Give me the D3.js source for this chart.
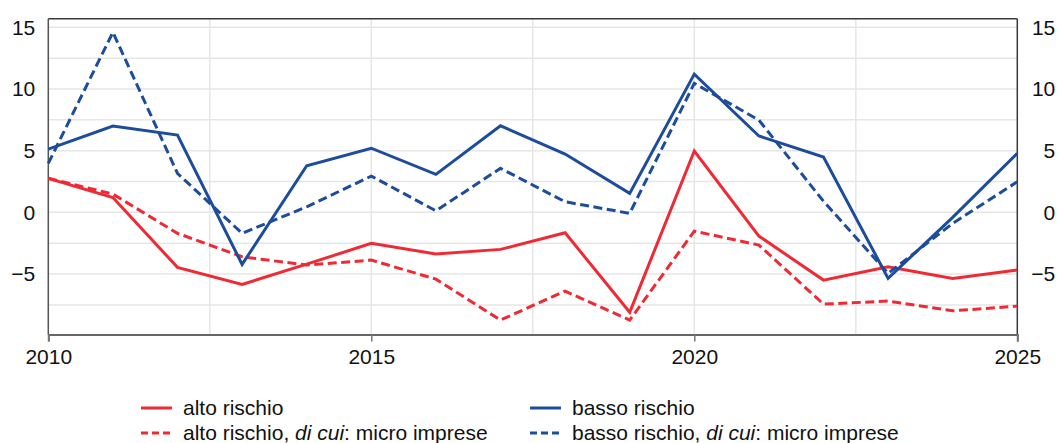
<!DOCTYPE html>
<html>
<head>
<meta charset="utf-8">
<script src="https://cdn.jsdelivr.net/npm/d3@7"></script>
<style>
  html, body { margin: 0; padding: 0; background: #fff; }
  svg { display: block; font-family: "Liberation Sans", Arial, sans-serif; }
</style>
</head>
<body>
<svg id="chart" width="1057" height="443"></svg>
<script>
const years = [2010, 2011, 2012, 2013, 2014, 2015, 2016, 2017, 2018, 2019, 2020, 2021, 2022, 2023, 2024, 2025];
const altoRischio = [2.76, 1.2, -4.46, -5.84, -4.2, -2.51, -3.38, -3.0, -1.65, -8.1, 4.97, -1.92, -5.49, -4.41, -5.35, -4.68];
const altoMicro = [2.76, 1.48, -1.7, -3.6, -4.27, -3.87, -5.41, -8.73, -6.38, -8.73, -1.52, -2.65, -7.44, -7.19, -7.98, -7.6];
const bassoRischio = [5.13, 7.0, 6.27, -4.22, 3.78, 5.2, 3.08, 7.02, 4.73, 1.54, 11.21, 6.19, 4.48, -5.35, -0.4, 4.78];
const bassoMicro = [3.97, 14.6, 3.16, -1.7, 0.45, 2.94, 0.13, 3.57, 0.86, -0.08, 10.46, 7.48, 0.9, -4.95, -0.89, 2.48];

const yTickLabels = [-5, 0, 5, 10, 15];
const yGrid = [-7.5, -5, -2.5, 0, 2.5, 5, 7.5, 10, 12.5, 15];
const xTickLabels = [2010, 2015, 2020, 2025];
const xGrid = [2012.5, 2015, 2017.5, 2020, 2022.5];

const seriesNames = ["alto rischio", "basso rischio", "alto rischio, di cui: micro imprese", "basso rischio, di cui: micro imprese"];

const RED = "#ee2a35", BLUE = "#1d4d9a";

const series = [
  { name: seriesNames[0], values: altoRischio, color: RED, dash: null },
  { name: seriesNames[2], values: altoMicro, color: RED, dash: "9,4.5" },
  { name: seriesNames[1], values: bassoRischio, color: BLUE, dash: null },
  { name: seriesNames[3], values: bassoMicro, color: BLUE, dash: "9,4.5" }
];

const svg = d3.select("#chart");
const L = 48.3, R = 1017.3, T = 18.7, B = 334.5;

const x = d3.scaleLinear().domain([2010, 2025]).range([L, R]);
const y = d3.scaleLinear().domain([-9.9, 15.7]).range([B, T]);

// grid
svg.append("g").selectAll("line.h").data(yGrid).join("line")
  .attr("x1", L).attr("x2", R)
  .attr("y1", d => y(d)).attr("y2", d => y(d))
  .attr("stroke", "#e6e6e6").attr("stroke-width", 1.5);
svg.append("g").selectAll("line.v").data(xGrid).join("line")
  .attr("x1", d => x(d)).attr("x2", d => x(d))
  .attr("y1", T).attr("y2", B)
  .attr("stroke", "#e6e6e6").attr("stroke-width", 1.5);

// frame
svg.append("line").attr("x1", L).attr("x2", R).attr("y1", T).attr("y2", T)
  .attr("stroke", "#3a3a3a").attr("stroke-width", 1.5);
svg.append("line").attr("x1", L).attr("x2", L).attr("y1", T).attr("y2", B)
  .attr("stroke", "#555").attr("stroke-width", 1.5);
svg.append("line").attr("x1", R).attr("x2", R).attr("y1", T).attr("y2", B)
  .attr("stroke", "#3a3a3a").attr("stroke-width", 1.5);

// x axis
const xAxis = d3.axisBottom(x).tickValues(xTickLabels).tickFormat(d3.format("d")).tickSize(7).tickPadding(8);
const gx = svg.append("g").attr("transform", `translate(0,${B})`).call(xAxis);
gx.select(".domain").attr("stroke", "#666").attr("stroke-width", 2);
gx.selectAll(".tick line").attr("stroke", "#777").attr("stroke-width", 1.5);
gx.selectAll(".tick text").attr("font-size", 21).attr("fill", "#111")
  .attr("font-family", "Liberation Sans, Arial, sans-serif");

// y axes (labels only)
const yAxisL = d3.axisLeft(y).tickValues(yTickLabels).tickSize(0).tickPadding(13);
const gyl = svg.append("g").attr("transform", `translate(${L},0)`).call(yAxisL);
gyl.select(".domain").remove();
gyl.selectAll(".tick text").attr("font-size", 21).attr("fill", "#111")
  .attr("font-family", "Liberation Sans, Arial, sans-serif");

const yAxisR = d3.axisRight(y).tickValues(yTickLabels).tickSize(0).tickPadding(38);
const gyr = svg.append("g").attr("transform", `translate(${R},0)`).call(yAxisR);
gyr.select(".domain").remove();
gyr.selectAll(".tick text").attr("font-size", 21).attr("fill", "#111")
  .attr("text-anchor", "end")
  .attr("font-family", "Liberation Sans, Arial, sans-serif");

// lines
const line = d3.line().x((d, i) => x(years[i])).y(d => y(d));
const drawOrder = [series[1], series[0], series[3], series[2]];
svg.append("g").selectAll("path").data(drawOrder).join("path")
  .attr("d", d => line(d.values))
  .attr("fill", "none")
  .attr("stroke", d => d.color)
  .attr("stroke-width", 3)
  .attr("stroke-dasharray", d => d.dash)
  .attr("stroke-linejoin", "miter");

// legend
const legendItems = [
  { s: series[0], x: 141, y: 408, parts: [["alto rischio", false]] },
  { s: series[2], x: 530, y: 408, parts: [["basso rischio", false]] },
  { s: series[1], x: 141, y: 433, parts: [["alto rischio, ", false], ["di cui", true], [": micro imprese", false]] },
  { s: series[3], x: 530, y: 433, parts: [["basso rischio, ", false], ["di cui", true], [": micro imprese", false]] }
];
const lg = svg.append("g");
legendItems.forEach(it => {
  lg.append("line").attr("x1", it.x).attr("x2", it.x + 31).attr("y1", it.y).attr("y2", it.y)
    .attr("stroke", it.s.color).attr("stroke-width", 3)
    .attr("stroke-dasharray", it.s.dash ? "7,4" : null);
  const t = lg.append("text").attr("x", it.x + 42).attr("y", it.y + 7)
    .attr("font-size", 21).attr("fill", "#111");
  it.parts.forEach(p => {
    t.append("tspan").text(p[0]).attr("font-style", p[1] ? "italic" : null);
  });
});
</script>
</body>
</html>
